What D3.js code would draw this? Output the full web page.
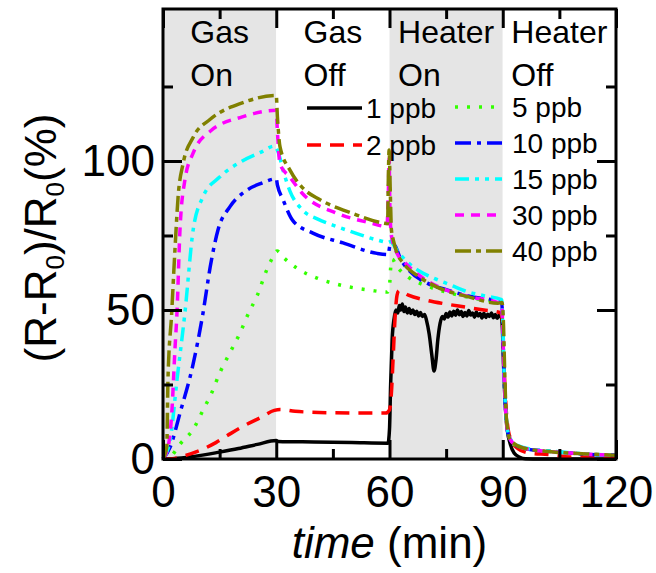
<!DOCTYPE html>
<html>
<head>
<meta charset="utf-8">
<script src="https://cdn.jsdelivr.net/npm/d3@7"></script>
<style>
  body { margin: 0; background: #fff; }
  text { font-family: "Liberation Sans", Arial, sans-serif; fill: #000; }
</style>
</head>
<body>
<script>
// time (min), response (%)
var ppb1 = [[0,0],[3,0.1],[8,0.8],[15,2.3],[20,3.5],[25,4.9],[30,6.2],[30.5,5.9],[40,5.7],[50,5.5],[59.6,5.3],
  [60,10],[60.3,25],[60.7,40],[61.2,47],[61.7,50],[62.2,49],[62.6,51.5],[63,50],[63.4,52],[63.8,49.5],[64.2,51],
  [64.7,49],[65.2,50.5],[65.7,48.8],[66.2,50],[66.7,48.5],[67.2,49.6],[67.7,48],[68.2,49.2],[68.7,47.8],[69.3,48.5],
  [69.8,46.5],[70.5,42],[71.2,35],[71.8,29.5],[72.3,33],[72.8,40],[73.4,45.5],[74,47.8],[74.5,47],[75,48.8],
  [75.5,47.6],[76,49.3],[76.5,48],[77,49.6],[77.5,48.2],[78,50],[78.5,48.4],[79,49.5],[79.5,47.8],[80,49.2],
  [80.5,48],[81,49.8],[81.5,48.3],[82,49],[82.5,47.6],[83,49.3],[83.5,48],[84,48.8],[84.5,47.3],[85,48.9],
  [85.5,47.5],[86,48.6],[86.5,47.8],[87,49],[87.5,47.4],[88,48.5],[88.5,47.2],[89,48.2],[89.6,47.5],[89.9,44],
  [90.2,32],[90.6,20],[91.2,10],[92,5],[93,2],[94.5,0.6],[96,0.1],[100,0],[120,0]];
var ppb2 = [[0,0],[3,0.2],[6,1.2],[10,3],[14,5.5],[18,8.6],[22,11.5],[26,14],[29.5,16.3],[31,16.6],[35,16],
  [45,15.5],[55,15.4],[59,15.4],[60,16.5],[60.5,22],[61,35],[61.5,48],[62,55],[62.5,56.5],[65,55],[70,53.2],
  [75,52],[80,51],[85,50],[89.5,49],[90,45],[90.4,30],[91,15],[92,7],[94,3.5],[97,2],[102,1.5],[108,0.7],
  [112,0.8],[120,0.8]];
var ppb5 = [[0,0],[2,0.8],[4.5,5],[8,10],[10.6,16.4],[13,22.5],[15,28.8],[17.7,35.6],[20.4,42.3],[22.5,48.5],
  [25,55],[27.5,63.5],[29,67.5],[30.2,69.8],[32,67.5],[35.5,64],[40.8,60.7],[45,59],[49.5,57.7],[55,56.6],
  [59.5,56],[60,58],[60.3,64],[60.7,67],[62,64.5],[65,61],[70,58],[75,56],[80,54.5],[85,53.3],[89.7,52.5],
  [90,45],[90.3,30],[90.8,15],[91.5,8],[93,5],[96,3.5],[100,2.8],[106,2.2],[112,1.6],[120,1.3]];
var ppb10 = [[0,0],[1.9,4],[4.5,15.4],[8,32],[10.6,49],[12.5,64.4],[14.6,77],[17.7,84.6],[22,90],[26,92.5],
  [30,94],[30.3,92],[31.8,87],[34.4,80],[39.7,75.8],[47.7,72.5],[56.7,69],[59.7,68.6],[60,71],[60.5,72.5],
  [61.5,71.5],[63,67],[65,63.5],[70,59],[75,56.8],[80,55],[85,53.8],[89.7,53],[90,46],[90.3,30],[90.8,15],
  [91.5,8],[93,5],[96,3.5],[100,2.8],[106,2.2],[112,1.6],[120,1.3]];
var ppb15 = [[0,0],[1.9,6.4],[3.7,26.5],[5.8,49],[8,77],[10.6,88],[15,94.6],[21,100],[26,103],[29.5,105],
  [30.5,103],[32,96],[33.6,90],[37,83.5],[41,80.5],[46,78],[51,75.8],[56.7,73.5],[59.7,72.7],[60.3,73],[61,72],
  [62,70],[64,67],[68,63],[72,60.5],[76,58.5],[81,56],[85,54.8],[89.7,53.5],[90,47],[90.3,31],[90.8,16],
  [91.5,8.5],[93,5.2],[96,3.7],[100,3],[106,2.3],[112,1.7],[120,1.4]];
var ppb30 = [[0,0],[1.5,5],[2.3,15],[3.2,37.6],[3.7,49],[4.5,77],[5.8,93.6],[8,102.7],[12.5,110],[21,114.8],
  [30,117],[30.3,110],[31,99],[33.6,94.6],[37,89],[46,82.5],[55,79.2],[59.3,78],[59.7,90],[59.9,101],[60.1,85],
  [60.5,75],[62,69],[64,66],[68,61.5],[72.6,58],[81,54.5],[88.7,52.5],[89.7,52],[90,45],[90.3,30],[90.8,15],
  [91.5,8],[93,5],[96,3.5],[100,2.8],[106,2.2],[112,1.6],[120,1.3]];
var ppb40 = [[0,0],[1,4],[1.3,26],[2.3,49],[3.2,71],[4,88],[5.3,99],[8,108],[12.5,114],[21,119.5],[30,122],
  [30.3,115],[31,104.7],[33.6,97],[37,91],[41.6,87],[50,82.5],[58.3,79.2],[59.5,79],[59.7,95],[59.9,103.7],
  [60.2,90],[60.5,77],[61,73.5],[62,69],[63.6,65.8],[68,61],[72.6,57.7],[81,54.4],[88.7,52.3],[89.8,52.5],
  [90.2,45],[90.5,30],[91,13],[92,6.4],[95.4,3.7],[104,2.3],[112,1.7],[119,1.3],[120,1.2]];

var series = [ppb1, ppb2, ppb5, ppb10, ppb15, ppb30, ppb40];
var seriesNames = ['1 ppb', '2 ppb', '5 ppb', '10 ppb', '15 ppb', '30 ppb', '40 ppb'];
var seriesColors = ['#000000', '#ff0000', '#33ff00', '#0000ff', '#00ffff', '#ff00ff', '#808000'];
var seriesDash = ['none', '14,9', '3,9', '16,6,4,6', '14,6,4,6,4,6', '9,7', '16,5,5,5'];

var phaseStarts = [0, 30, 60, 90];
var phaseLabels = [['Gas', 'On'], ['Gas', 'Off'], ['Heater', 'On'], ['Heater', 'Off']];
var phaseShaded = [true, false, true, false];

var xTicks = [0, 30, 60, 90, 120];
var xMinor = [15, 45, 75, 105];
var yTicks = [0, 50, 100];
var yMinor = [25, 75, 125];

var width = 656;
var height = 573;
var plotLeft = 163, plotRight = 616, plotTop = 9, plotBottom = 459;

var x = d3.scaleLinear().domain([0, 120]).range([plotLeft, plotRight]);
var y = d3.scaleLinear().domain([0, 151]).range([plotBottom, plotTop]);

var svg = d3.select('body').append('svg')
  .attr('width', width)
  .attr('height', height);

// phase backgrounds
svg.selectAll('rect.phase')
  .data(phaseStarts)
  .enter().append('rect')
  .attr('x', function(d) { return x(d); })
  .attr('y', plotTop)
  .attr('width', x(30) - x(0))
  .attr('height', plotBottom - plotTop)
  .attr('fill', function(d, i) { return phaseShaded[i] ? '#e5e5e5' : '#ffffff'; });

// phase labels, left aligned block centred in its phase
phaseLabels.forEach(function(lines, i) {
  var g = svg.append('text')
    .attr('font-size', 32);
  var first = g.append('tspan').attr('y', 43).text(lines[0]);
  var w = first.node().getComputedTextLength();
  var x0 = x(phaseStarts[i] + 15) - w / 2;
  first.attr('x', x0);
  g.append('tspan').attr('x', x0).attr('y', 86).text(lines[1]);
});

var line = d3.line()
  .curve(d3.curveMonotoneX)
  .x(function(d) { return x(d[0]); })
  .y(function(d) { return y(d[1]); });

var plot = svg.append('g');
plot.selectAll('path')
  .data(series)
  .enter().append('path')
  .attr('d', line)
  .attr('fill', 'none')
  .attr('stroke', function(d, i) { return seriesColors[i]; })
  .attr('stroke-width', 3.5)
  .attr('stroke-dasharray', function(d, i) { return seriesDash[i]; });

// legend
var legend = svg.append('g');
seriesNames.forEach(function(name, i) {
  var col1 = i < 2;
  var x1 = col1 ? 307 : 455;
  var x2 = col1 ? 362 : 502;
  var ly = col1 ? 108 + i * 37 : 107 + (i - 2) * 36;
  legend.append('line')
    .attr('x1', x1).attr('x2', x2)
    .attr('y1', ly).attr('y2', ly)
    .attr('stroke', seriesColors[i])
    .attr('stroke-width', 3.5)
    .attr('stroke-dasharray', seriesDash[i]);
  legend.append('text')
    .attr('x', col1 ? 366 : 512)
    .attr('y', ly + 10)
    .attr('font-size', 28)
    .text(name);
});

// axes with inward ticks
function styleAxis(g) {
  g.select('.domain').remove();
  g.selectAll('line').attr('stroke', '#000').attr('stroke-width', 3);
  g.selectAll('text').attr('font-size', 44).attr('font-family', '"Liberation Sans", Arial, sans-serif').attr('fill', '#000');
}

svg.append('g')
  .attr('transform', 'translate(0,' + plotBottom + ')')
  .call(d3.axisBottom(x).tickValues(xTicks).tickSize(-19).tickPadding(17).tickFormat(d3.format('d')))
  .call(styleAxis);
svg.append('g')
  .attr('transform', 'translate(0,' + plotBottom + ')')
  .call(d3.axisBottom(x).tickValues(xMinor).tickSize(-10).tickFormat(''))
  .call(styleAxis);
svg.append('g')
  .attr('transform', 'translate(0,' + plotTop + ')')
  .call(d3.axisTop(x).tickValues(xTicks).tickSize(-19).tickFormat(''))
  .call(styleAxis);
svg.append('g')
  .attr('transform', 'translate(0,' + plotTop + ')')
  .call(d3.axisTop(x).tickValues(xMinor).tickSize(-10).tickFormat(''))
  .call(styleAxis);
svg.append('g')
  .attr('transform', 'translate(' + plotLeft + ',0)')
  .call(d3.axisLeft(y).tickValues(yTicks).tickSize(-19).tickPadding(8).tickFormat(d3.format('d')))
  .call(styleAxis);
svg.append('g')
  .attr('transform', 'translate(' + plotLeft + ',0)')
  .call(d3.axisLeft(y).tickValues(yMinor).tickSize(-10).tickFormat(''))
  .call(styleAxis);
svg.append('g')
  .attr('transform', 'translate(' + plotRight + ',0)')
  .call(d3.axisRight(y).tickValues(yTicks).tickSize(-19).tickFormat(''))
  .call(styleAxis);
svg.append('g')
  .attr('transform', 'translate(' + plotRight + ',0)')
  .call(d3.axisRight(y).tickValues(yMinor).tickSize(-10).tickFormat(''))
  .call(styleAxis);

// frame
svg.append('rect')
  .attr('x', plotLeft).attr('y', plotTop)
  .attr('width', plotRight - plotLeft).attr('height', plotBottom - plotTop)
  .attr('fill', 'none')
  .attr('stroke', '#000')
  .attr('stroke-width', 3);

// axis titles
var xt = svg.append('text')
  .attr('x', (plotLeft + plotRight) / 2)
  .attr('y', 558)
  .attr('text-anchor', 'middle')
  .attr('font-size', 44);
xt.append('tspan').attr('font-style', 'italic').text('time');
xt.append('tspan').text(' (min)');

var yt = svg.append('text')
  .attr('transform', 'translate(56,238) rotate(-90)')
  .attr('text-anchor', 'middle')
  .attr('font-size', 44);
yt.append('tspan').text('(R-R');
yt.append('tspan').attr('font-size', 26).attr('dy', 8).text('0');
yt.append('tspan').attr('dy', -8).text(')/R');
yt.append('tspan').attr('font-size', 26).attr('dy', 8).text('0');
yt.append('tspan').attr('dy', -8).text('(%)');
</script>
</body>
</html>
